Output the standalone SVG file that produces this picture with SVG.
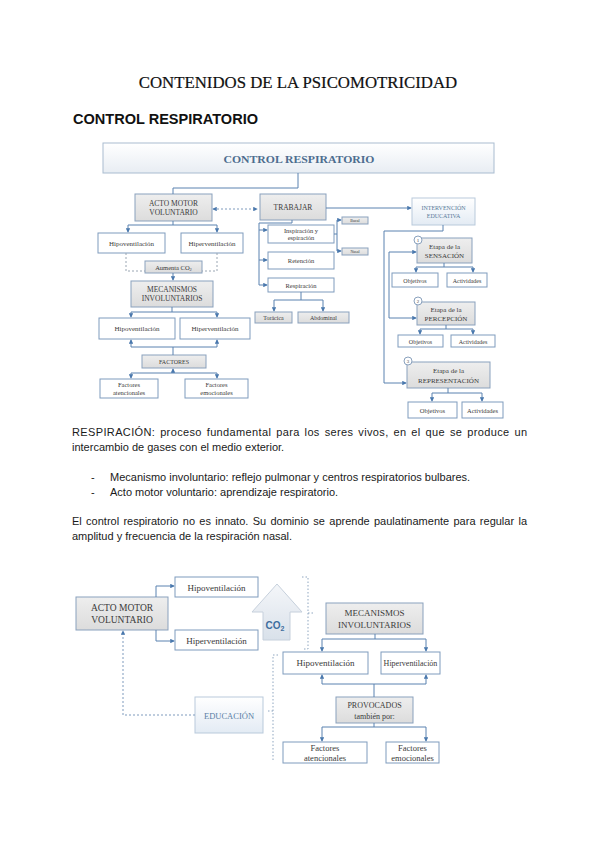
<svg xmlns="http://www.w3.org/2000/svg" width="600" height="848" viewBox="0 0 600 848">
<defs>
<style>
.t{font-family:"Liberation Serif","Times New Roman",serif;fill:#3a3a3a;text-anchor:middle}
.p{font-family:"Liberation Sans",Arial,sans-serif;font-size:11px;fill:#1a1a1a}
.bw{fill:#fff;stroke:#7f9bbd;stroke-width:1}
.bg{fill:url(#gg);stroke:#8aa1bd;stroke-width:1}
.bb{fill:url(#gb);stroke:#b9cadb;stroke-width:1}
.c{fill:none;stroke:#5a82b0;stroke-width:1}
.d{fill:none;stroke:#7f9bbd;stroke-width:1;stroke-dasharray:2 2}
.g{fill:none;stroke:#9aa6b3;stroke-width:1;stroke-dasharray:2 2}
.o{fill:none;stroke:#8fa6c0;stroke-width:1;stroke-dasharray:1.5 2}
</style>
<linearGradient id="gg" x1="0" y1="0" x2="0" y2="1"><stop offset="0" stop-color="#eeeeee"/><stop offset="1" stop-color="#dcdcdc"/></linearGradient>
<linearGradient id="gb" x1="0" y1="0" x2="0" y2="1"><stop offset="0" stop-color="#ffffff"/><stop offset="1" stop-color="#e3ebf4"/></linearGradient>
<linearGradient id="gh" x1="0" y1="0" x2="0" y2="1"><stop offset="0" stop-color="#ffffff"/><stop offset="1" stop-color="#e8edf3"/></linearGradient>
<linearGradient id="gc" x1="0" y1="0" x2="0" y2="1"><stop offset="0" stop-color="#f4f6f9"/><stop offset="1" stop-color="#d9e1ea"/></linearGradient>
<marker id="a" viewBox="0 0 6 6" refX="5" refY="3" markerWidth="4.5" markerHeight="4.5" orient="auto-start-reverse"><path d="M0,0L6,3L0,6z" fill="#4a78ad"/></marker>
</defs>
<rect width="600" height="848" fill="#fff"/>

<g id="titles">
<text x="298" y="88" font-family="Liberation Serif,serif" font-size="16.8" text-anchor="middle" fill="#111" stroke="#111" stroke-width="0.2">CONTENIDOS DE LA PSICOMOTRICIDAD</text>
<text x="73" y="124" font-family="Liberation Sans,sans-serif" font-size="15" font-weight="bold" fill="#111" textLength="185" lengthAdjust="spacingAndGlyphs">CONTROL RESPIRATORIO</text>
</g>

<!-- TOP DIAGRAM NODES -->
<g id="n-header"><rect x="103" y="143" width="391" height="30" fill="url(#gh)" stroke="#a9bcd0"/><text class="t" x="299" y="163" font-size="11" font-weight="bold" style="fill:#4d6d8f" textLength="151" lengthAdjust="spacingAndGlyphs">CONTROL RESPIRATORIO</text></g>
<g id="n-acto1"><rect class="bg" x="135" y="194" width="77" height="27"/><text class="t" x="173.5" y="205.5" font-size="7.5">ACTO MOTOR</text><text class="t" x="173.5" y="214.5" font-size="7.5">VOLUNTARIO</text></g>
<g id="n-hipo1"><rect class="bw" x="98" y="233" width="67" height="20"/><text class="t" x="131.5" y="245.5" font-size="7">Hipoventilación</text></g>
<g id="n-hiper1"><rect class="bw" x="181" y="233" width="62" height="20"/><text class="t" x="212" y="245.5" font-size="7">Hiperventilación</text></g>
<g id="n-aumenta"><rect class="bg" x="145" y="261" width="57" height="12"/><text class="t" x="173.5" y="269.5" font-size="6.5">Aumenta CO<tspan font-size="4.5" dy="1.5">2</tspan></text></g>
<g id="n-mec1"><rect class="bg" x="131" y="281" width="82" height="26"/><text class="t" x="172" y="292" font-size="7.5">MECANISMOS</text><text class="t" x="172" y="301" font-size="7.5">INVOLUNTARIOS</text></g>
<g id="n-hipo2"><rect class="bw" x="99" y="318" width="76" height="21"/><text class="t" x="137" y="331" font-size="7">Hipoventilación</text></g>
<g id="n-hiper2"><rect class="bw" x="180" y="318" width="70" height="21"/><text class="t" x="215" y="331" font-size="7">Hiperventilación</text></g>
<g id="n-factores"><rect class="bg" x="142" y="355" width="64" height="13"/><text class="t" x="174" y="364" font-size="6">FACTORES</text></g>
<g id="n-fat1"><rect class="bw" x="100" y="379" width="58" height="19"/><text class="t" x="129" y="387" font-size="6.5">Factores</text><text class="t" x="129" y="395" font-size="6.5">atencionales</text></g>
<g id="n-fem1"><rect class="bw" x="185" y="379" width="63" height="19"/><text class="t" x="216.5" y="387" font-size="6.5">Factores</text><text class="t" x="216.5" y="395" font-size="6.5">emocionales</text></g>

<g id="n-trabajar"><rect class="bg" x="260" y="194" width="66" height="26"/><text class="t" x="293" y="210" font-size="7.5">TRABAJAR</text></g>
<g id="n-insp"><rect class="bw" x="268" y="225" width="66" height="18"/><text class="t" x="301" y="232.5" font-size="6.5">Inspiración y</text><text class="t" x="301" y="240" font-size="6.5">espiración</text></g>
<g id="n-ret"><rect class="bw" x="268" y="252" width="66" height="17"/><text class="t" x="301" y="263" font-size="6.5">Retención</text></g>
<g id="n-resp"><rect class="bw" x="268" y="278" width="66" height="14"/><text class="t" x="301" y="287.5" font-size="6.5">Respiración</text></g>
<g id="n-bucal"><rect class="bg" x="342" y="217" width="26" height="7"/><text class="t" x="355" y="222.3" font-size="4">Bucal</text></g>
<g id="n-nasal"><rect class="bg" x="342" y="248" width="26" height="7"/><text class="t" x="355" y="253.3" font-size="4">Nasal</text></g>
<g id="n-toracica"><rect class="bg" x="255" y="312" width="37" height="11"/><text class="t" x="273.5" y="320" font-size="6">Torácica</text></g>
<g id="n-abdominal"><rect class="bg" x="298" y="312" width="51" height="11"/><text class="t" x="323.5" y="320" font-size="6">Abdominal</text></g>

<g id="n-interv"><rect class="bb" x="412" y="198" width="63" height="27"/><text class="t" x="443.5" y="209.5" font-size="6" style="fill:#5a7a9a">INTERVENCIÓN</text><text class="t" x="443.5" y="217.5" font-size="6" style="fill:#5a7a9a">EDUCATIVA</text></g>
<g id="n-sens"><rect class="bg" x="417" y="238" width="55" height="25"/><circle cx="418" cy="240" r="4" fill="#fff" stroke="#8aa1bd"/><text class="t" x="418" y="241.8" font-size="5">1</text><text class="t" x="444.5" y="249" font-size="7">Etapa de la</text><text class="t" x="444.5" y="258" font-size="7">SENSACIÓN</text></g>
<g id="n-obj1"><rect class="bw" x="392" y="273" width="46" height="14"/><text class="t" x="415" y="282.5" font-size="6">Objetivos</text></g>
<g id="n-act1"><rect class="bw" x="447" y="273" width="40" height="14"/><text class="t" x="467" y="282.5" font-size="6">Actividades</text></g>
<g id="n-perc"><rect class="bg" x="417" y="302" width="58" height="23"/><circle cx="418" cy="301" r="4" fill="#fff" stroke="#8aa1bd"/><text class="t" x="418" y="302.8" font-size="5">2</text><text class="t" x="446" y="312" font-size="7">Etapa de la</text><text class="t" x="446" y="321" font-size="7">PERCEPCIÓN</text></g>
<g id="n-obj2"><rect class="bw" x="398" y="335" width="45" height="12"/><text class="t" x="420.5" y="343.5" font-size="6">Objetivos</text></g>
<g id="n-act2"><rect class="bw" x="451" y="335" width="44" height="12"/><text class="t" x="473" y="343.5" font-size="6">Actividades</text></g>
<g id="n-repr"><rect class="bg" x="407" y="362" width="83" height="26"/><circle cx="408" cy="361" r="4" fill="#fff" stroke="#8aa1bd"/><text class="t" x="408" y="362.8" font-size="5">3</text><text class="t" x="448.5" y="373" font-size="7">Etapa de la</text><text class="t" x="448.5" y="383" font-size="7">REPRESENTACIÓN</text></g>
<g id="n-obj3"><rect class="bw" x="408" y="402" width="49" height="16"/><text class="t" x="432.5" y="412.5" font-size="6.5">Objetivos</text></g>
<g id="n-act3"><rect class="bw" x="462" y="402" width="41" height="16"/><text class="t" x="482.5" y="412.5" font-size="6.5">Actividades</text></g>

<g id="connectors-top">
<path class="c" d="M298,173V188H173V194"/>
<path class="d" d="M213,209H257" marker-start="url(#a)" marker-end="url(#a)"/>
<path class="c" d="M173,221V225M128,225H217"/>
<path class="c" d="M128,225V232" marker-end="url(#a)"/>
<path class="c" d="M217,225V232" marker-end="url(#a)"/>
<path class="g" d="M126,253V271H145M217,253V271H202"/>
<path class="c" d="M173,273V280" marker-end="url(#a)"/>
<path class="c" d="M172,307V312M131,312H217"/>
<path class="c" d="M131,312V317" marker-end="url(#a)"/>
<path class="c" d="M217,312V317" marker-end="url(#a)"/>
<path class="c" d="M131,347H217M173,347V355"/>
<path class="c" d="M131,347V340" marker-end="url(#a)"/>
<path class="c" d="M217,347V340" marker-end="url(#a)"/>
<path class="c" d="M131,373H217"/>
<path class="c" d="M173,373V369" marker-end="url(#a)"/>
<path class="c" d="M131,373V378" marker-end="url(#a)"/>
<path class="c" d="M217,373V378" marker-end="url(#a)"/>
<path class="c" d="M326,208H411" marker-end="url(#a)"/>
<path class="c" d="M292,220V223H259V285"/>
<path class="c" d="M259,230H267" marker-end="url(#a)"/>
<path class="c" d="M259,260H267" marker-end="url(#a)"/>
<path class="c" d="M259,285H267" marker-end="url(#a)"/>
<path class="c" d="M334,234H337M337,220V251"/>
<path class="c" d="M337,220H341" marker-end="url(#a)"/>
<path class="c" d="M337,251H341" marker-end="url(#a)"/>
<path class="c" d="M301,292V300M274,300H323"/>
<path class="c" d="M274,300V311" marker-end="url(#a)"/>
<path class="c" d="M323,300V311" marker-end="url(#a)"/>
<path class="c" d="M443,225V231H384V383H406" marker-end="url(#a)"/>
<path class="c" d="M389,252H416" marker-end="url(#a)"/>
<path class="c" d="M389,252V318H416" marker-end="url(#a)"/>
<path class="c" d="M444,263V267M416,267H473"/>
<path class="c" d="M416,267V272" marker-end="url(#a)"/>
<path class="c" d="M473,267V272" marker-end="url(#a)"/>
<path class="c" d="M446,325V329M420,329H473"/>
<path class="c" d="M420,329V334" marker-end="url(#a)"/>
<path class="c" d="M473,329V334" marker-end="url(#a)"/>
<path class="c" d="M448,388V393M432,393H482"/>
<path class="c" d="M432,393V401" marker-end="url(#a)"/>
<path class="c" d="M482,393V401" marker-end="url(#a)"/>
</g>

<g id="paragraph">
<text class="p" x="72" y="436" word-spacing="1.5" textLength="455" lengthAdjust="spacing">RESPIRACIÓN: proceso fundamental para los seres vivos, en el que se produce un</text>
<text class="p" x="72" y="451">intercambio de gases con el medio exterior.</text>
<text class="p" x="91" y="481">-</text>
<text class="p" x="110" y="481">Mecanismo involuntario: reflejo pulmonar y centros respiratorios bulbares.</text>
<text class="p" x="91" y="496">-</text>
<text class="p" x="110" y="496">Acto motor voluntario: aprendizaje respiratorio.</text>
<text class="p" x="72" y="525" word-spacing="1.3" textLength="455" lengthAdjust="spacing">El control respiratorio no es innato. Su dominio se aprende paulatinamente para regular la</text>
<text class="p" x="72" y="540">amplitud y frecuencia de la respiración nasal.</text>
</g>

<!-- BOTTOM DIAGRAM -->
<g id="n-acto2"><rect class="bg" x="76" y="597" width="92" height="33"/><text class="t" x="122" y="610.5" font-size="9.5">ACTO MOTOR</text><text class="t" x="122" y="622.5" font-size="9.5">VOLUNTARIO</text></g>
<g id="n-hipo3"><rect class="bw" x="175" y="577" width="83" height="20"/><text class="t" x="216.5" y="590.5" font-size="9">Hipoventilación</text></g>
<g id="n-hiper3"><rect class="bw" x="175" y="630" width="83" height="20"/><text class="t" x="216.5" y="643.5" font-size="9">Hiperventilación</text></g>
<g id="n-co2"><polygon points="277,584 302,612 290,612 290,640 263,640 263,612 252,612" fill="url(#gc)" stroke="#c6d0dc"/><text x="275" y="629" font-family="Liberation Sans,sans-serif" font-size="10" font-weight="bold" fill="#3e6e9e" text-anchor="middle">CO<tspan font-size="7" dy="2">2</tspan></text></g>
<g id="n-mec2"><rect class="bg" x="326" y="603" width="97" height="31"/><text class="t" x="374.5" y="616" font-size="9">MECANISMOS</text><text class="t" x="374.5" y="627.5" font-size="9">INVOLUNTARIOS</text></g>
<g id="n-hipo4"><rect class="bw" x="283" y="652" width="85" height="22"/><text class="t" x="325.5" y="666" font-size="9">Hipoventilación</text></g>
<g id="n-hiper4"><rect class="bw" x="381" y="652" width="59" height="22"/><text class="t" x="410.5" y="666" font-size="8">Hiperventilación</text></g>
<g id="n-educ"><rect class="bb" x="195" y="697" width="68" height="36"/><text class="t" x="229" y="718.5" font-size="8.5" style="fill:#5b7fa5">EDUCACIÓN</text></g>
<g id="n-prov"><rect class="bg" x="336" y="697" width="77" height="26"/><text class="t" x="374.5" y="708" font-size="8">PROVOCADOS</text><text class="t" x="374.5" y="718.5" font-size="8">también por:</text></g>
<g id="n-fat2"><rect class="bw" x="283" y="742" width="84" height="21"/><text class="t" x="325" y="751" font-size="8.5">Factores</text><text class="t" x="325" y="760.5" font-size="8.5">atencionales</text></g>
<g id="n-fem2"><rect class="bw" x="386" y="742" width="53" height="21"/><text class="t" x="412.5" y="751" font-size="8.5">Factores</text><text class="t" x="412.5" y="760.5" font-size="8.5">emocionales</text></g>

<g id="connectors-bottom">
<path class="c" d="M156,597V586H174" marker-end="url(#a)"/>
<path class="c" d="M156,630V641H174" marker-end="url(#a)"/>
<path class="o" d="M302,577H308V649H302M308,613H314"/>
<path class="o" d="M278,655H273V762M273,711H268"/>
<path class="d" d="M195,715H123V631" marker-end="url(#a)"/>
<path class="c" d="M375,634V639M322,639H426"/>
<path class="c" d="M322,639V651" marker-end="url(#a)"/>
<path class="c" d="M426,639V651" marker-end="url(#a)"/>
<path class="c" d="M322,684H426M374,684V697"/>
<path class="c" d="M322,684V675" marker-end="url(#a)"/>
<path class="c" d="M426,684V675" marker-end="url(#a)"/>
<path class="c" d="M374,723V727M322,727H426"/>
<path class="c" d="M322,727V741" marker-end="url(#a)"/>
<path class="c" d="M426,727V741" marker-end="url(#a)"/>
</g>
</svg>
